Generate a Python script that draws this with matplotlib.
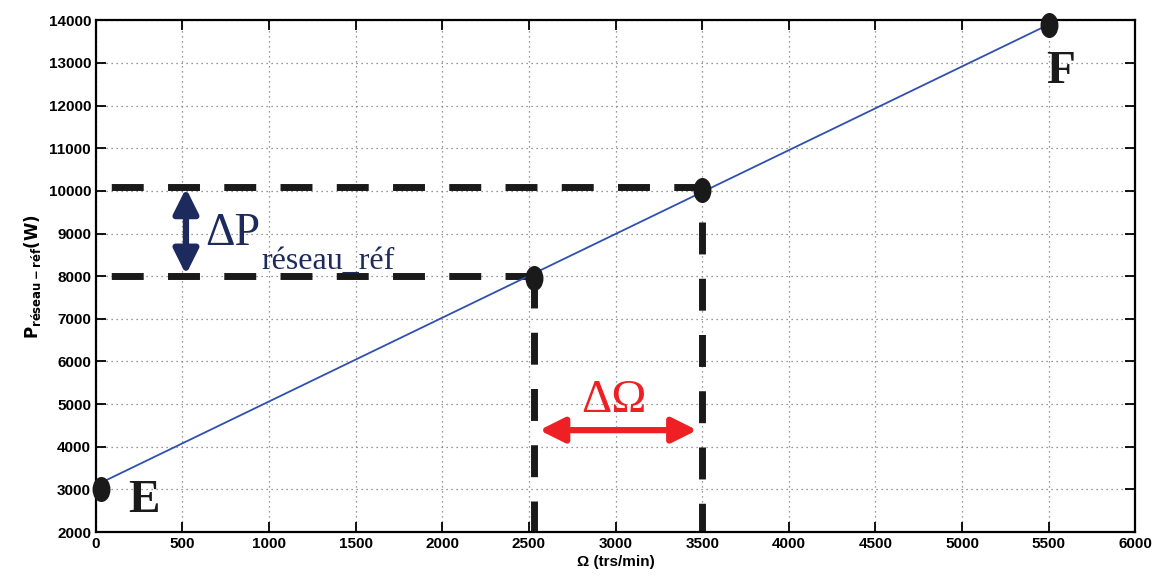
import numpy as np
import matplotlib as mpl
mpl.use('Agg')
import matplotlib.pyplot as plt
from matplotlib.path import Path

# Droite P = f(Omega)
omega = [0, 5500]
p_ref = [3100, 13900]

# Points remarquables
pts_x = [30, 2530, 3500, 5500]
pts_y = [3000, 7950, 10030, 13900]

# Niveaux des pointilles
p_low, p_high = 8000, 10100
om_low, om_high = 2530, 3500
om_high_top = 9260

plt.rcParams['font.family'] = ['Liberation Sans', 'DejaVu Sans']
plt.rcParams['font.weight'] = 'bold'

fig = plt.figure(figsize=(11.55, 5.79), dpi=100)
ax = fig.add_axes([0.083, 0.081, 0.9, 0.884])

ax.plot(omega, p_ref, color='#3050b0', lw=1.3, zorder=3)

# pointilles noirs epais
dash_h = dict(color='#1a1a1a', lw=5, linestyle=(5.9, (4.6, 3.5)), zorder=2,
              dash_capstyle='butt')
dash_v = dict(color='#1a1a1a', lw=5, linestyle=(0, (4.6, 3.5)), zorder=2,
              dash_capstyle='butt')
ax.plot([0, om_high], [p_high, p_high], **dash_h)
ax.plot([0, om_low], [p_low, p_low], **dash_h)
ax.plot([om_low, om_low], [p_low, 2000], **dash_v)
ax.plot([om_high, om_high], [om_high_top, 2000], **dash_v)

# marqueurs ellipses
circ = Path.unit_circle()
ell = Path(circ.vertices * np.array([0.7, 1.0]), circ.codes)
ax.plot(pts_x, pts_y, linestyle='none', marker=ell, markersize=17,
        color='#1a1a1a', zorder=4, clip_on=False)

# fleches
ax.annotate('', xy=(520, p_high - 40), xytext=(520, p_low + 40),
            arrowprops=dict(arrowstyle='<|-|>,head_length=1.5,head_width=0.75',
                            color='#1c2a5e', lw=4.5, shrinkA=0, shrinkB=0))
ax.annotate('', xy=(2560, 4390), xytext=(3470, 4390),
            arrowprops=dict(arrowstyle='<|-|>,head_length=1.5,head_width=0.75',
                            color='#ee2024', lw=4.5, shrinkA=0, shrinkB=0))

serif = ['Liberation Serif', 'DejaVu Serif']
ax.text(630, 8720, 'ΔP', family=serif, fontsize=33, color='#1c2a5e',
        fontweight='normal', va='baseline')
ax.text(955, 8180, 'réseau_réf', family=serif, fontsize=23, color='#1c2a5e',
        fontweight='normal', va='baseline')
ax.text(2990, 4810, 'ΔΩ', family=serif, fontsize=34, color='#ee2024',
        fontweight='normal', ha='center', va='baseline')
ax.text(277, 2470, 'E', family=serif, fontsize=34, color='#1a1a1a',
        fontweight='bold', ha='center', va='baseline')
ax.text(5570, 12540, 'F', family=serif, fontsize=34, color='#1a1a1a',
        fontweight='bold', ha='center', va='baseline')

ax.set_xlim(0, 6000)
ax.set_ylim(2000, 14000)
ax.set_xticks(np.arange(0, 6001, 500))
ax.set_yticks(np.arange(2000, 14001, 1000))
ax.tick_params(direction='in', labelsize=11, length=7, width=1.3, top=True, right=True,
               labeltop=False, labelright=False)
ax.grid(True, linestyle=(0, (1, 3)), color='#777777', lw=0.9)
for s in ax.spines.values():
    s.set_linewidth(1.6)

ax.set_xlabel('Ω (trs/min)', fontsize=11, fontweight='bold', labelpad=3)
ax.set_ylabel(r'$\mathbf{P}_{\mathbf{réseau-réf}}\mathbf{(W)}$', fontsize=12, labelpad=4)

fig.savefig('out.png', dpi=100)
